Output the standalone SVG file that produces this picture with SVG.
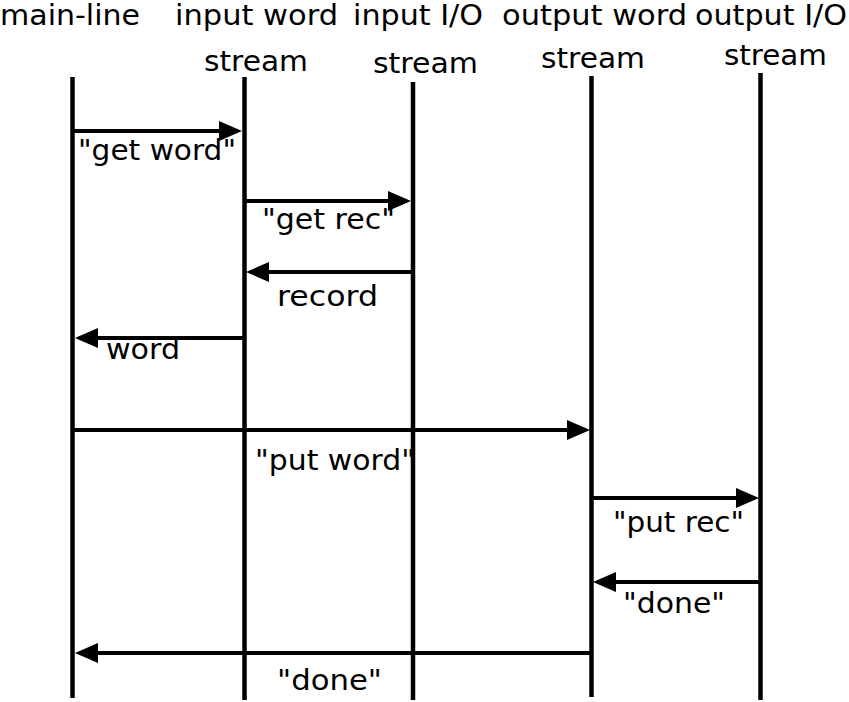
<svg xmlns="http://www.w3.org/2000/svg" width="849" height="702" viewBox="0 0 849 702">
  <style>
    text { font-family: "DejaVu Sans", "Liberation Sans", sans-serif; font-size: 28px; font-weight: normal; fill: #000; }
    .life { stroke: #000; stroke-width: 4.5; fill: none; }
    .msg { stroke: #000; stroke-width: 4; fill: none; marker-end: url(#ah); }
  </style>
  <defs>
    <marker id="ah" markerUnits="userSpaceOnUse" markerWidth="23" markerHeight="20" refX="19" refY="10" orient="auto" overflow="visible">
      <path d="M0,0 L23,10 L0,20 Z" fill="#000"/>
    </marker>
  </defs>
  <rect width="849" height="702" fill="#fff"/>

  <g id="main-line">
    <text x="0" y="25" textLength="140" lengthAdjust="spacingAndGlyphs">main-line</text>
    <line class="life" x1="72.5" y1="77" x2="72.5" y2="698"/>
  </g>
  <g id="input-word-stream">
    <text x="175" y="25" textLength="163" lengthAdjust="spacingAndGlyphs">input word</text>
    <text x="204" y="71" textLength="104" lengthAdjust="spacingAndGlyphs">stream</text>
    <line class="life" x1="244.5" y1="77" x2="244.5" y2="700"/>
  </g>
  <g id="input-io-stream">
    <text x="353" y="25" textLength="130" lengthAdjust="spacingAndGlyphs">input I/O</text>
    <text x="373" y="73" textLength="105" lengthAdjust="spacingAndGlyphs">stream</text>
    <line class="life" x1="413" y1="82" x2="413" y2="700"/>
  </g>
  <g id="output-word-stream">
    <text x="502" y="25" textLength="185" lengthAdjust="spacingAndGlyphs">output word</text>
    <text x="541" y="68" textLength="104" lengthAdjust="spacingAndGlyphs">stream</text>
    <line class="life" x1="591.5" y1="76" x2="591.5" y2="697"/>
  </g>
  <g id="output-io-stream">
    <text x="695" y="25" textLength="152" lengthAdjust="spacingAndGlyphs">output I/O</text>
    <text x="724" y="65" textLength="103" lengthAdjust="spacingAndGlyphs">stream</text>
    <line class="life" x1="760.5" y1="73" x2="760.5" y2="700"/>
  </g>

  <g id="connectors">
    <line class="msg" x1="72.5" y1="131" x2="238" y2="131"/>
    <line class="msg" x1="244.5" y1="201" x2="407" y2="201"/>
    <line class="msg" x1="413" y1="272" x2="250" y2="272"/>
    <line class="msg" x1="244.5" y1="338" x2="79" y2="338"/>
    <line class="msg" x1="72.5" y1="430" x2="586" y2="430"/>
    <line class="msg" x1="591.5" y1="498" x2="755" y2="498"/>
    <line class="msg" x1="760.5" y1="582" x2="597" y2="582"/>
    <line class="msg" x1="591.5" y1="653" x2="79" y2="653"/>
  </g>

  <g id="labels">
    <text x="78" y="160" textLength="158" lengthAdjust="spacingAndGlyphs">"get word"</text>
    <text x="262" y="229" textLength="133" lengthAdjust="spacingAndGlyphs">"get rec"</text>
    <text x="277" y="306" textLength="101" lengthAdjust="spacingAndGlyphs">record</text>
    <text x="106" y="359" textLength="74" lengthAdjust="spacingAndGlyphs">word</text>
    <text x="255" y="470" textLength="160" lengthAdjust="spacingAndGlyphs">"put word"</text>
    <text x="613" y="532" textLength="131" lengthAdjust="spacingAndGlyphs">"put rec"</text>
    <text x="623" y="613" textLength="102" lengthAdjust="spacingAndGlyphs">"done"</text>
    <text x="277" y="690" textLength="105" lengthAdjust="spacingAndGlyphs">"done"</text>
  </g>
</svg>
